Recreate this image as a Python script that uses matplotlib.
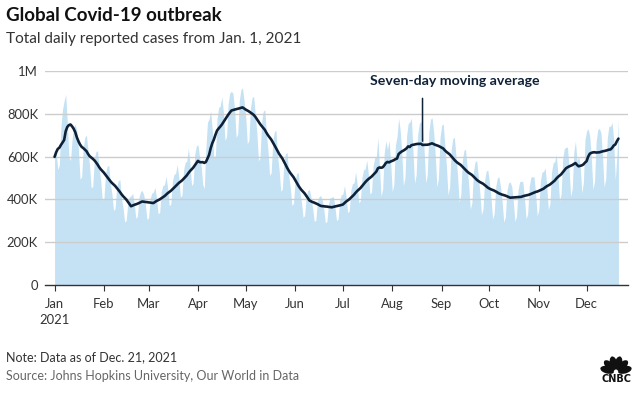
import math
import pandas as pd
import matplotlib
matplotlib.use("Agg")
import matplotlib.pyplot as plt
from matplotlib.patches import Ellipse

# daily reported cases, thousands, from Dec 26 2020 (first six days only feed the average)
daily_cases_k = [
    470, 430, 520, 650, 740, 780,
    600, 620, 540, 560, 740, 820, 860,
    890, 760, 600, 580, 680, 740, 750,
    720, 630, 495, 505, 640, 690, 700,
    630, 555, 452, 462, 590, 624, 627,
    545, 485, 396, 406, 520, 554, 559,
    479, 426, 348, 357, 457, 487, 492,
    405, 361, 294, 302, 386, 412, 416,
    429, 382, 312, 320, 410, 437, 441,
    421, 375, 306, 314, 402, 429, 433,
    457, 407, 332, 340, 436, 465, 469,
    508, 453, 370, 379, 485, 517, 522,
    563, 502, 410, 420, 538, 573, 579,
    638, 568, 464, 476, 609, 650, 655,
    600, 560, 470, 450, 640, 760, 776,
    814, 725, 592, 607, 777, 829, 836,
    880, 807, 676, 693, 848, 897, 905,
    896, 822, 689, 706, 863, 913, 921,
    859, 787, 660, 676, 827, 875, 882,
    798, 711, 580, 595, 761, 812, 819,
    704, 627, 512, 525, 672, 717, 723,
    603, 537, 438, 449, 575, 614, 619,
    512, 456, 372, 381, 488, 521, 525,
    435, 387, 316, 324, 415, 442, 446,
    409, 360, 298, 301, 391, 412, 419,
    399, 356, 290, 298, 381, 407, 410,
    414, 368, 301, 308, 395, 421, 425,
    464, 414, 338, 346, 443, 473, 477,
    528, 470, 384, 394, 504, 538, 542,
    583, 519, 424, 435, 557, 594, 599,
    690, 546, 414, 449, 621, 673, 633,
    675, 575, 436, 470, 655, 693, 780,
    722, 613, 464, 503, 697, 755, 761,
    780, 625, 475, 515, 705, 755, 765,
    741, 629, 477, 516, 715, 775, 781,
    715, 606, 459, 498, 689, 746, 753,
    655, 556, 421, 456, 632, 684, 690,
    603, 511, 387, 420, 581, 629, 635,
    551, 467, 354, 384, 531, 576, 581,
    510, 432, 328, 355, 491, 532, 537,
    479, 407, 308, 334, 462, 501, 505,
    457, 388, 294, 318, 441, 477, 481,
    461, 391, 297, 321, 445, 482, 486,
    482, 405, 310, 331, 460, 503, 507,
    504, 428, 324, 351, 486, 527, 531,
    547, 464, 351, 381, 527, 571, 576,
    610, 518, 392, 425, 589, 638, 643,
    644, 546, 414, 449, 621, 673, 580,
    600, 560, 430, 480, 680, 720, 730,
    694, 589, 446, 484, 670, 725, 732,
    711, 603, 457, 495, 686, 743, 740,
    760, 680, 490, 600, 775,
]
first_day = "2020-12-26"
chart_start = "2021-01-01"

y_ticks = [0, 200000, 400000, 600000, 800000, 1000000]
y_labels = ["0", "200K", "400K", "600K", "800K", "1M"]
month_labels = ["Jan\n2021", "Feb", "Mar", "Apr", "May", "Jun",
                "Jul", "Aug", "Sep", "Oct", "Nov", "Dec"]

AREA = "#c4e2f4"
NAVY = "#0f2138"
GRID = "#cccccc"
DARK = "#333333"

plt.rcParams["font.family"] = ["Lato", "DejaVu Sans"]

dates = pd.date_range(first_day, periods=len(daily_cases_k), freq="D")
cases = pd.Series(daily_cases_k, index=dates) * 1000
avg = cases.rolling(7).mean()
cases = cases[chart_start:]
avg = avg[chart_start:]

fig = plt.figure(figsize=(6.4, 3.94), dpi=100)
ax = fig.add_axes([45 / 640, 1 - 285 / 394, 583 / 640, 214 / 394])

ax.fill_between(cases.index, cases.values, color=AREA, lw=0, zorder=2)
for t in y_ticks[1:]:
    ax.axhline(t, color=GRID, lw=1, zorder=2.5)
ax.plot(avg.index, avg.values, color=NAVY, lw=1.9, zorder=3,
        solid_capstyle="round", solid_joinstyle="round")

ax.set_xlim(pd.Timestamp("2020-12-26"), pd.Timestamp("2021-12-27"))
ax.set_ylim(0, 1000000)

ax.set_yticks(y_ticks)
ax.set_yticklabels(y_labels)
months = pd.date_range(chart_start, periods=12, freq="MS")
ax.set_xticks(months)
ax.set_xticklabels(month_labels, linespacing=1.45)

for side in ["top", "right", "left"]:
    ax.spines[side].set_visible(False)
ax.spines["bottom"].set_color(DARK)
ax.spines["bottom"].set_linewidth(1)
ax.spines["bottom"].set_zorder(4)
ax.tick_params(axis="y", length=0, pad=5, labelsize=9.4, labelcolor=DARK)
ax.tick_params(axis="x", length=4, width=0.8, color=DARK, pad=5,
               labelsize=9.4, labelcolor=DARK)

# annotation for the average line
ax.text(pd.Timestamp("2021-09-09"), 952000, "Seven-day moving average",
        ha="center", va="center", fontsize=10.2, fontweight="bold", color=NAVY)
ax.annotate("", xy=(pd.Timestamp("2021-08-20"), 672000),
            xytext=(pd.Timestamp("2021-08-20"), 872000),
            arrowprops=dict(arrowstyle="-", color=NAVY, lw=1.1,
                            shrinkA=0, shrinkB=0), zorder=4)


def px(x, y):
    return x / 640, 1 - y / 394


fig.text(*px(6, 21), "Global Covid-19 outbreak", fontsize=13.5,
         fontweight="bold", color="#111111", va="baseline")
fig.text(*px(6, 43), "Total daily reported cases from Jan. 1, 2021",
         fontsize=11.1, color=DARK, va="baseline")
fig.text(*px(6, 361), "Note: Data as of Dec. 21, 2021", fontsize=9,
         color=DARK, va="baseline")
fig.text(*px(6, 380), "Source: Johns Hopkins University, Our World in Data",
         fontsize=9, color="#666666", va="baseline")

# CNBC peacock mark
logo = fig.add_axes([598 / 640, 1 - 384 / 394, 36 / 640, 38 / 394])
logo.set_xlim(0, 36)
logo.set_ylim(0, 38)
logo.axis("off")
for ang in [14, 44, 75, 105, 136, 166]:
    r = math.radians(ang)
    cx = 18 + 8.8 * math.cos(r)
    cy = 12 + 8.8 * math.sin(r)
    logo.add_patch(Ellipse((cx, cy), 7.4, 14.5, angle=ang - 90,
                           color="#111111", lw=0))
logo.add_patch(Ellipse((18, 12), 4.5, 5, color="white", lw=0))
logo.text(18, 4.5, "CNBC", ha="center", va="center", fontsize=7,
          fontweight="heavy", color="#111111", family="DejaVu Sans")

fig.savefig("out.png", dpi=100)
